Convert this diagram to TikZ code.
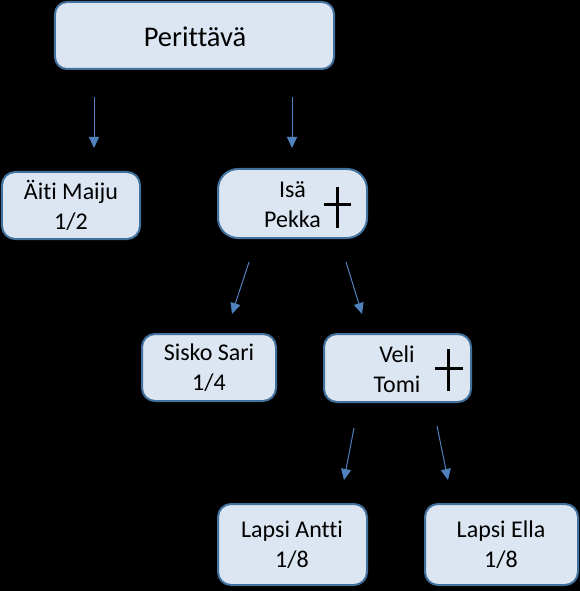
\documentclass[tikz,border=0pt]{standalone}
\usepackage{fontspec}
\setmainfont{Carlito}[Ligatures={NoCommon}]
\usetikzlibrary{arrows.meta}
\definecolor{boxfill}{HTML}{DCE6F2}
\definecolor{boxline}{HTML}{41719C}
\definecolor{arrowc}{HTML}{4F81BD}
\tikzset{
  box/.style={draw=boxline, fill=boxfill, line width=2bp, rounded corners=13bp, inner sep=0pt},
  txt/.style={align=center, inner sep=0pt, font=\fontsize{24bp}{30bp}\selectfont, text=black},
  arr/.style={draw=arrowc, line width=1bp, -{Triangle[length=11bp,width=10bp]}},
  crossline/.style={draw=black, line width=3bp}
}
\begin{document}
\begin{tikzpicture}[x=1bp,y=-1bp]
\fill[black] (0,0) rectangle (580,591);
\useasboundingbox (0,0) rectangle (580,591);
% boxes
\node[box, minimum width=279bp, minimum height=67bp, rounded corners=12bp] (per) at (194.5,35.5) {};
\node[txt, font=\fontsize{28.5bp}{34bp}\selectfont] (pert) at (195,37) {Perittävä};
\node[box, minimum width=138bp, minimum height=67bp] (aiti) at (71,205.5) {};
\node[txt] (aitit) at (71,205.5) {Äiti Maiju\\1/2};
\node[box, minimum width=149bp, minimum height=69bp, rounded corners=20bp] (isa) at (292.5,203.5) {};
\node[txt] (isat) at (292.5,205) {Isä\\Pekka};
\node[box, minimum width=134bp, minimum height=67bp] (sisko) at (209,367.5) {};
\node[txt] (siskot) at (209,368) {Sisko Sari\\1/4};
\node[box, minimum width=147bp, minimum height=68bp] (veli) at (397.5,368) {};
\node[txt] (velit) at (397,369) {Veli\\Tomi};
\node[box, minimum width=149bp, minimum height=81bp] (antti) at (292.5,544.5) {};
\node[txt] (anttit) at (292,545) {Lapsi Antti\\1/8};
\node[box, minimum width=153bp, minimum height=81bp] (ella) at (501.5,544.5) {};
\node[txt] (ellat) at (501,545) {Lapsi Ella\\1/8};
% crosses
\draw[crossline] (337,187) -- (337,228);
\draw[crossline] (324,204) -- (351,204);
\draw[crossline] (448,349) -- (448,391);
\draw[crossline] (435,368) -- (463,368);
% arrow end points
\coordinate (a1s) at (94,97);   \coordinate (a1e) at (94,148);
\coordinate (a2s) at (292,97);  \coordinate (a2e) at (292,148);
\coordinate (a3s) at (249,262); \coordinate (a3e) at (232,314);
\coordinate (a4s) at (346,262); \coordinate (a4e) at (362,314);
\coordinate (a5s) at (354,428); \coordinate (a5e) at (344,480);
\coordinate (a6s) at (437,426); \coordinate (a6e) at (448,480);
\draw[arr] (a1s) -- (a1e);
\draw[arr] (a2s) -- (a2e);
\draw[arr] (a3s) -- (a3e);
\draw[arr] (a4s) -- (a4e);
\draw[arr] (a5s) -- (a5e);
\draw[arr] (a6s) -- (a6e);
\end{tikzpicture}
\end{document}
